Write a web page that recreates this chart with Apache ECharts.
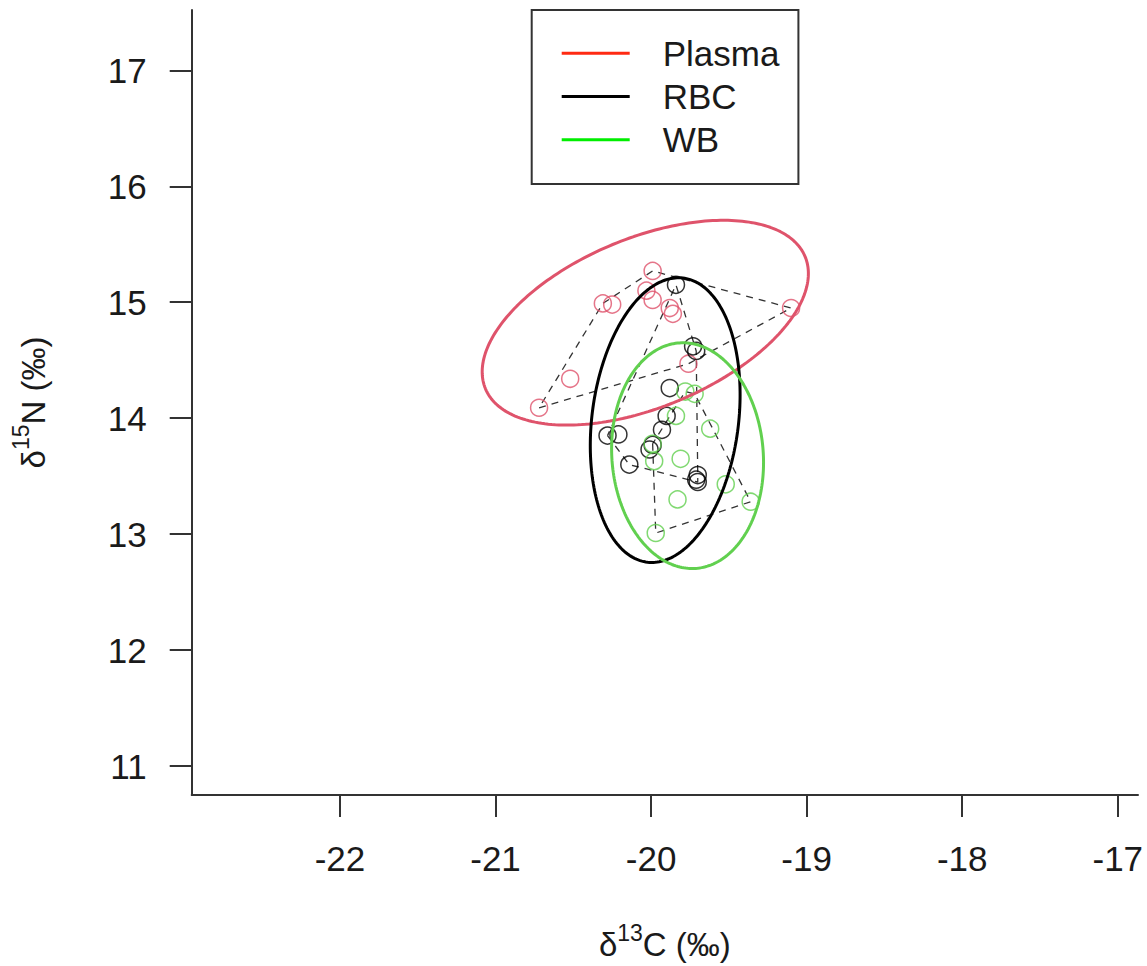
<!DOCTYPE html>
<html>
<head>
<meta charset="utf-8">
<script src="https://cdn.jsdelivr.net/npm/echarts@6/dist/echarts.min.js"></script>
<style>
  html, body { margin: 0; padding: 0; background: #fff; }
  #chart { width: 1147px; height: 966px; }
</style>
</head>
<body>
<div id="chart"></div>
<script>
// ---- data ----
const xTicks = [-22, -21, -20, -19, -18, -17];
const yTicks = [11, 12, 13, 14, 15, 16, 17];

const groupNames = ['Plasma', 'RBC', 'WB'];

const plasmaX = [-19.99, -20.31, -20.25, -20.03, -19.99, -19.88, -19.86, -19.76, -19.10, -20.52, -20.72];
const plasmaY = [15.27, 14.99, 14.98, 15.10, 15.02, 14.95, 14.90, 14.47, 14.95, 14.34, 14.09];

const rbcX = [-19.84, -19.73, -19.71, -19.88, -19.90, -19.93, -19.99, -20.01, -20.28, -20.21, -20.14, -19.70, -19.70, -19.71];
const rbcY = [15.15, 14.62, 14.58, 14.26, 14.02, 13.90, 13.77, 13.73, 13.85, 13.86, 13.60, 13.51, 13.45, 13.47];

const wbX = [-19.78, -19.72, -19.84, -19.62, -19.99, -19.98, -19.81, -19.52, -19.36, -19.83, -19.97];
const wbY = [14.23, 14.21, 14.02, 13.91, 13.78, 13.63, 13.65, 13.43, 13.28, 13.30, 13.01];

// ---- styling ----
const pointColors = ['#DF536B', '#000000', '#61D04F'];
const legendColors = ['#ff2a12', '#000000', '#00ee00'];
const chi2_95 = 5.991; // 95% ellipse (chi-square, 2 df)
const FONT = 'Liberation Sans, Arial, Helvetica, sans-serif';

const groupsX = [plasmaX, rbcX, wbX];
const groupsY = [plasmaY, rbcY, wbY];

function pairs(xs, ys) { return xs.map((x, i) => [x, ys[i]]); }

// convex hull (monotone chain) in data space
function hull(pts) {
  const p = pts.slice().sort((a, b) => a[0] - b[0] || a[1] - b[1]);
  const cross = (o, a, b) => (a[0] - o[0]) * (b[1] - o[1]) - (a[1] - o[1]) * (b[0] - o[0]);
  const lower = [], upper = [];
  for (const q of p) { while (lower.length >= 2 && cross(lower[lower.length - 2], lower[lower.length - 1], q) <= 0) lower.pop(); lower.push(q); }
  for (let i = p.length - 1; i >= 0; i--) { const q = p[i]; while (upper.length >= 2 && cross(upper[upper.length - 2], upper[upper.length - 1], q) <= 0) upper.pop(); upper.push(q); }
  const h = lower.slice(0, -1).concat(upper.slice(0, -1));
  h.push(h[0]);
  return h;
}

// 95% data ellipse from the sample covariance of the group
function ellipse(xs, ys) {
  const n = xs.length;
  const mx = xs.reduce((a, b) => a + b, 0) / n;
  const my = ys.reduce((a, b) => a + b, 0) / n;
  let sxx = 0, syy = 0, sxy = 0;
  for (let i = 0; i < n; i++) { const dx = xs[i] - mx, dy = ys[i] - my; sxx += dx * dx; syy += dy * dy; sxy += dx * dy; }
  sxx /= (n - 1); syy /= (n - 1); sxy /= (n - 1);
  const tr = sxx + syy, det = sxx * syy - sxy * sxy;
  const disc = Math.sqrt(Math.max(tr * tr / 4 - det, 0));
  const l1 = tr / 2 + disc, l2 = tr / 2 - disc;
  const ang = Math.atan2(l1 - sxx, sxy);
  const a = Math.sqrt(chi2_95 * l1), b = Math.sqrt(chi2_95 * l2);
  const out = [];
  const steps = 240;
  for (let k = 0; k <= steps; k++) {
    const t = 2 * Math.PI * k / steps;
    const u = a * Math.cos(t), v = b * Math.sin(t);
    out.push([mx + u * Math.cos(ang) - v * Math.sin(ang), my + u * Math.sin(ang) + v * Math.cos(ang)]);
  }
  return out;
}

const series = [];
groupNames.forEach((g, i) => {
  series.push({
    name: g + ' hull', type: 'line', data: hull(pairs(groupsX[i], groupsY[i])),
    showSymbol: false, silent: true, z: 2,
    lineStyle: { color: '#333', width: 1.3, type: [7, 6] }
  });
});
groupNames.forEach((g, i) => {
  series.push({
    name: g + ' points', type: 'scatter', data: pairs(groupsX[i], groupsY[i]),
    symbol: 'circle', symbolSize: 17, silent: true, z: 3,
    itemStyle: { color: 'rgba(0,0,0,0)', borderColor: pointColors[i], borderWidth: 1.5 }
  });
});
groupNames.forEach((g, i) => {
  series.push({
    name: g, type: 'line', data: ellipse(groupsX[i], groupsY[i]),
    showSymbol: false, silent: true, z: 4,
    itemStyle: { color: pointColors[i] },
    lineStyle: { color: pointColors[i], width: 3 }
  });
});

const chart = echarts.init(document.getElementById('chart'), null, { renderer: 'svg' });
chart.setOption({
  animation: false,
  backgroundColor: '#fff',
  textStyle: { fontFamily: FONT },
  grid: { left: 191.7, right: 9, top: 10, bottom: 168, containLabel: false },
  xAxis: {
    type: 'value', min: -22.953, max: -16.87,
    splitLine: { show: false },
    axisLine: { show: true, onZero: false, lineStyle: { color: '#333', width: 2 } },
    axisTick: { show: true, customValues: xTicks, length: 22, lineStyle: { color: '#333', width: 2 } },
    axisLabel: { customValues: xTicks, fontSize: 35, color: '#1a1a1a', margin: 46, fontFamily: FONT },
    name: '{d|δ}{s|13}{d|C (‰)}',
    nameLocation: 'middle', nameGap: 126,
    nameTextStyle: {
      rich: {
        d: { fontSize: 33, lineHeight: 40, color: '#1a1a1a', fontFamily: FONT, verticalAlign: 'bottom' },
        s: { fontSize: 23, lineHeight: 23, color: '#1a1a1a', fontFamily: FONT, verticalAlign: 'top' }
      }
    }
  },
  yAxis: {
    type: 'value', min: 10.751, max: 17.52,
    splitLine: { show: false },
    axisLine: { show: true, onZero: false, lineStyle: { color: '#333', width: 2 } },
    axisTick: { show: true, customValues: yTicks, length: 22, lineStyle: { color: '#333', width: 2 } },
    axisLabel: { customValues: yTicks, fontSize: 35, color: '#1a1a1a', margin: 45, fontFamily: FONT },
    name: '{d|δ}{s|15}{d|N (‰)}',
    nameLocation: 'middle', nameGap: 142, nameRotate: 90,
    nameTextStyle: {
      rich: {
        d: { fontSize: 33, lineHeight: 40, color: '#1a1a1a', fontFamily: FONT, verticalAlign: 'bottom' },
        s: { fontSize: 23, lineHeight: 23, color: '#1a1a1a', fontFamily: FONT, verticalAlign: 'top' }
      }
    }
  },
  legend: {
    orient: 'vertical', left: 531.7, top: 10,
    padding: [21.6, 19, 22.4, 30],
    itemGap: 0, itemWidth: 68, itemHeight: 3, icon: 'rect',
    borderColor: '#333', borderWidth: 2, backgroundColor: '#fff',
    selectedMode: false,
    textStyle: { fontSize: 35, lineHeight: 43.3, color: '#1a1a1a', fontFamily: FONT, padding: [0, 0, 0, 28] },
    data: groupNames.map((g, i) => ({ name: g, icon: 'rect', itemStyle: { color: legendColors[i], borderWidth: 0 }, lineStyle: { color: legendColors[i] } }))
  },
  series: series
});
</script>
</body>
</html>
